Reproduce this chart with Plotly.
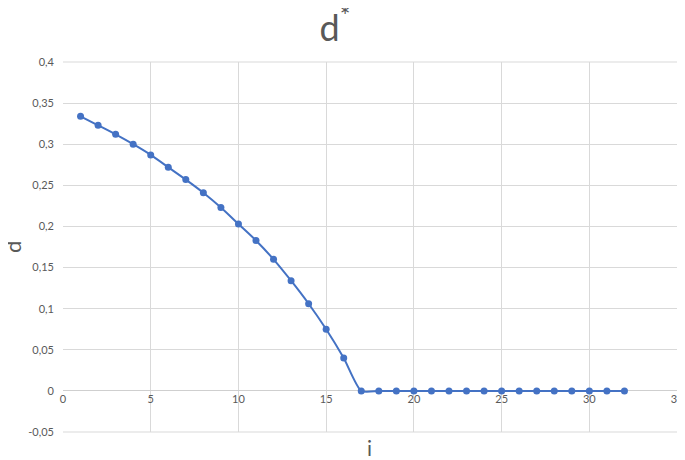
import plotly.graph_objects as go

# index i and the value d
i_values = list(range(1, 33))
d_values = [
    0.334, 0.323, 0.312, 0.300, 0.287, 0.272, 0.257, 0.241, 0.223, 0.203,
    0.183, 0.160, 0.134, 0.106, 0.075, 0.040, 0.0, 0.0, 0.0, 0.0,
    0.0, 0.0, 0.0, 0.0, 0.0, 0.0, 0.0, 0.0, 0.0, 0.0,
    0.0, 0.0,
]

y_ticks = [-0.05, 0, 0.05, 0.1, 0.15, 0.2, 0.25, 0.3, 0.35, 0.4]
y_tick_labels = ["-0,05", "0", "0,05", "0,1", "0,15", "0,2", "0,25", "0,3", "0,35", "0,4"]
x_ticks = [0, 5, 10, 15, 20, 25, 30, 35]

BLUE = "#4472C4"
GREY_TEXT = "#595959"
GRID = "#d9d9d9"
FONT = "Lato, Liberation Sans, sans-serif"

y_min, y_max = -0.05, 0.4
x_min, x_max = 0, 35

fig = go.Figure()
fig.add_trace(go.Scatter(
    x=i_values, y=d_values,
    mode="lines+markers",
    line=dict(color=BLUE, width=2, shape="spline", smoothing=0.6),
    marker=dict(color=BLUE, size=7),
    showlegend=False,
    cliponaxis=False,
))

# the page adds an 8px body margin, so the figure is 8px smaller and shifted;
# the x range runs a hair past 35 so its tick label stays inside the page
fig.update_layout(
    width=677, height=452,
    margin=dict(l=55, r=6, t=54, b=28, autoexpand=False),
    paper_bgcolor="white", plot_bgcolor="white",
    font=dict(family=FONT, color=GREY_TEXT, size=11),
    title=dict(text="d<sup>*</sup>", x=0.483, xanchor="center", y=0.956, yanchor="middle",
               font=dict(size=36, color=GREY_TEXT, family=FONT)),
    xaxis=dict(
        range=[x_min, x_max + 0.11], tickvals=x_ticks, showgrid=True, gridcolor=GRID, gridwidth=1,
        zeroline=False, showline=False, ticks="", automargin=False,
        anchor="free", position=(0 - y_min) / (y_max - y_min),
        tickfont=dict(size=11, color=GREY_TEXT),
    ),
    yaxis=dict(
        range=[y_min, y_max], tickvals=y_ticks, ticktext=y_tick_labels,
        showgrid=True, gridcolor=GRID, gridwidth=1,
        zeroline=True, zerolinecolor="#cfcfcf", zerolinewidth=1,
        showline=False, ticks="", ticklabelstandoff=8, automargin=False,
        tickfont=dict(size=11, color=GREY_TEXT),
    ),
    annotations=[
        dict(text="i", x=0.497, y=-0.043, xref="paper", yref="paper",
             xanchor="center", yanchor="middle", showarrow=False,
             font=dict(size=21, color=GREY_TEXT, family=FONT)),
        dict(text="d", x=0, xshift=-51, y=0.5, xref="paper", yref="paper",
             xanchor="center", yanchor="middle", showarrow=False, textangle=-90,
             font=dict(size=22, color=GREY_TEXT, family=FONT)),
    ],
)

# top and bottom border of the plot area, from x=0 to x=35
for yv in (0, 1):
    fig.add_shape(type="line", xref="x", yref="paper", x0=x_min, x1=x_max, y0=yv, y1=yv,
                  line=dict(color=GRID, width=1), layer="below")

fig.write_html("out.html")
